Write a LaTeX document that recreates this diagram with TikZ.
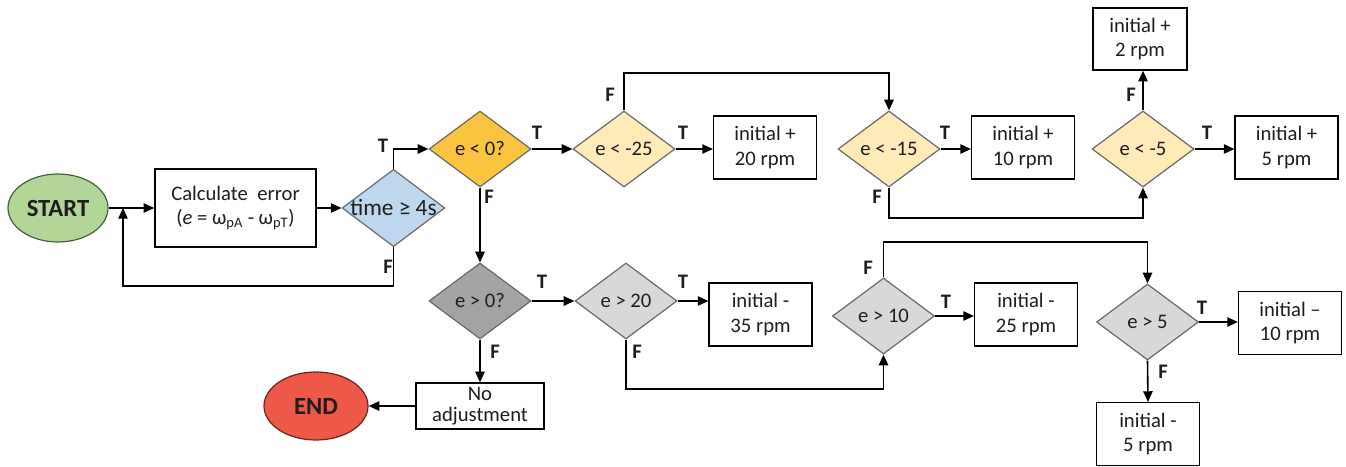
\documentclass[tikz,border=0pt]{standalone}
\usepackage{fontspec}
\setmainfont{Carlito}
\usetikzlibrary{shapes.geometric,arrows.meta,calc}

\definecolor{startfill}{RGB}{178,214,152}
\definecolor{startline}{RGB}{70,95,60}
\definecolor{endfill}{RGB}{238,88,72}
\definecolor{endline}{RGB}{110,35,25}
\definecolor{timefill}{RGB}{189,215,238}
\definecolor{gold}{RGB}{250,196,62}
\definecolor{cream}{RGB}{255,234,184}
\definecolor{midgray}{RGB}{163,163,163}
\definecolor{lightgray}{RGB}{216,216,216}
\definecolor{dialine}{RGB}{105,105,105}
\definecolor{ink}{RGB}{30,30,30}

\newcommand{\ctr}[1]{\makebox[0pt]{#1}}

\begin{document}
\begin{tikzpicture}[x=0.75pt,y=-0.75pt,
  txt/.style={font=\fontsize{15.5}{18.5}\selectfont, text=ink},
  term/.style={ellipse, draw, line width=0.9pt, inner sep=0pt,
    font=\fontsize{18.5}{20}\selectfont\bfseries, text=ink},
  dia/.style={diamond, draw=dialine, line width=0.9pt, inner sep=0pt,
    minimum width=76.5pt, minimum height=57pt, txt},
  stepbox/.style={rectangle, draw=black, line width=1.1pt, inner sep=0pt,
    minimum width=77pt, minimum height=47pt, align=center, fill=white, txt},
  tf/.style={font=\fontsize{15.5}{17}\selectfont\bfseries, text=ink, inner sep=0pt},
  link/.style={draw=black, line width=1.2pt},
  arr/.style={link, -{Triangle[length=8pt,width=7pt]}}
]
\useasboundingbox (0,0) rectangle (1346,467);

% terminals
\node[term, fill=startfill, draw=startline, minimum width=75pt, minimum height=51pt] (start) at (58,208) {START};
\node[term, fill=endfill, draw=endline, minimum width=78pt, minimum height=51pt] (endn) at (316,406) {END};

% error computation and time check
\node[stepbox, minimum width=120.75pt, minimum height=58.5pt] (calc) at (235.5,208)
  {Calculate\ \ error\\(\textit{e} = ω\textsubscript{pA} - ω\textsubscript{pT})};
\node[dia, fill=timefill, minimum width=77pt, minimum height=58pt] (time) at (393.5,208)
  {\ctr{\fontsize{17.5}{19}\selectfont time ≥ 4s}};

% negative error branch
\node[dia, fill=gold] (elt0) at (480,149) {\ctr{e < 0?}};
\node[dia, fill=cream] (elt25) at (624,149) {\ctr{e < -25}};
\node[stepbox] (box20) at (765,147.5) {initial +\\20 rpm};
\node[dia, fill=cream] (elt15) at (889,149) {\ctr{e < -15}};
\node[stepbox] (box10) at (1023,147.5) {initial +\\10 rpm};
\node[dia, fill=cream] (elt5) at (1143,149) {\ctr{e < -5}};
\node[stepbox] (box5p) at (1286.5,147.5) {initial +\\5 rpm};
\node[stepbox, minimum width=70.5pt, minimum height=46.5pt] (box2p) at (1140,39) {initial +\\2 rpm};

% positive error branch
\node[dia, fill=midgray] (egt0) at (480,301) {\ctr{e > 0?}};
\node[stepbox, minimum width=96pt, minimum height=34.5pt,
  font=\fontsize{15.5}{16}\selectfont] (noadj) at (480,406) {No\\adjustment};
\node[dia, fill=lightgray] (egt20) at (626,301) {\ctr{e > 20}};
\node[stepbox] (box35) at (760.5,314.5) {initial -\\35 rpm};
\node[dia, fill=lightgray] (egt10) at (883.5,316) {\ctr{e > 10}};
\node[stepbox] (box25) at (1026,314.5) {initial -\\25 rpm};
\node[dia, fill=lightgray] (egt5) at (1147.5,322) {\ctr{e > 5}};
\node[stepbox] (box10m) at (1290,323) {initial –\\10 rpm};
\node[stepbox] (box5m) at (1148,434) {initial -\\5 rpm};

% routing points
\coordinate (join) at (123,208);
\coordinate (loopback) at (123,286);
\coordinate (railA) at (0,73);
\coordinate (railB) at (0,218);
\coordinate (railC) at (0,389);
\coordinate (railD) at (0,242);

% connectors
\draw[arr] (start.east) -- (calc.west);
\draw[arr] (calc.east) -- (time.west);
\draw[arr] (time.south) |- (loopback) -- (join);
\draw[arr] (time.north) |- (elt0.west);
\draw[arr] (elt0.east) -- (elt25.west);
\draw[arr] (elt25.east) -- (elt25.east -| box20.west);
\draw[arr] (elt25.north) -- (elt25.north |- railA) -| (elt15.north);
\draw[arr] (elt15.east) -- (elt15.east -| box10.west);
\draw[arr] (elt15.south) -- (elt15.south |- railB) -| (elt5.south);
\draw[arr] (elt5.east) -- (elt5.east -| box5p.west);
\draw[arr] (elt5.north) -- (elt5.north |- box2p.south);
\draw[arr] (elt0.south) -- (egt0.north);
\draw[arr] (egt0.east) -- (egt0.east -| egt20.west);
\draw[arr] (egt20.east) -- (egt20.east -| box35.west);
\draw[arr] (egt0.south) -- (noadj.north);
\draw[arr] (noadj.west) -- (endn.east);
\draw[arr] (egt20.south) -- (egt20.south |- railC) -| (egt10.south);
\draw[arr] (egt10.east) -- (egt10.east -| box25.west);
\draw[arr] (egt10.north) -- (egt10.north |- railD) -| (egt5.north);
\draw[arr] (egt5.east) -- (egt5.east -| box10m.west);
\draw[arr] (egt5.south) -- (box5m.north);

% branch labels
\node[tf] (tTime) at (383,146) {T};
\node[tf] (fTime) at (388,267) {F};
\node[tf] (tE0) at (537,133) {T};
\node[tf] (fE0) at (489,197) {F};
\node[tf] (tE25) at (683,133) {T};
\node[tf] (fE25) at (610,95) {F};
\node[tf] (tE15) at (945,133) {T};
\node[tf] (fE15) at (877,197) {F};
\node[tf] (tE5) at (1207,133) {T};
\node[tf] (fE5) at (1131,95) {F};
\node[tf] (tG0) at (542,282) {T};
\node[tf] (fG0) at (495,352) {F};
\node[tf] (tG20) at (683,282) {T};
\node[tf] (fG20) at (637,352) {F};
\node[tf] (tG10) at (946,302) {T};
\node[tf] (fG10) at (868,268) {F};
\node[tf] (tG5) at (1202,308) {T};
\node[tf] (fG5) at (1163,372) {F};
\end{tikzpicture}
\end{document}
